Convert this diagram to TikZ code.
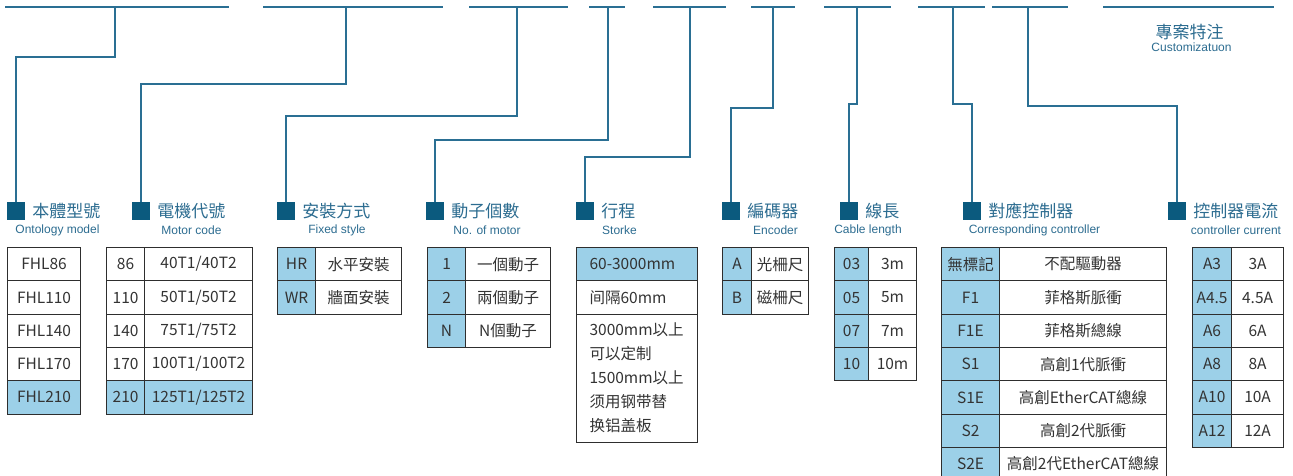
\documentclass[tikz,border=0pt]{standalone}
\usepackage{fontspec}
\setmainfont{Noto Sans CJK TC}
\newfontfamily\cjk{Noto Sans CJK TC}
\newfontfamily\engfont{Liberation Sans}
\usetikzlibrary{positioning}

\definecolor{lineblue}{HTML}{2A6F93}
\definecolor{sqblue}{HTML}{0B5A7E}
\definecolor{titleblue}{HTML}{2C6C90}
\definecolor{cellblue}{HTML}{9CD0E8}
\definecolor{cellline}{HTML}{2E2E2E}
\definecolor{textgray}{HTML}{333333}

\tikzset{
    conn/.style={lineblue, line width=1.4pt},
    sqmark/.style={fill=sqblue, minimum size=18pt, inner sep=0pt},
    headtext/.style={text=titleblue, font=\cjk\fontsize{17}{17}\selectfont, inner sep=0pt},
    subtext/.style={text=titleblue, font=\engfont\fontsize{12}{12}\selectfont, inner sep=0pt},
    cell/.style={draw=cellline, line width=1.1pt, text=textgray, font=\cjk\fontsize{15.5}{18}\selectfont,
        minimum height=33.3pt, inner sep=0pt, anchor=north west},
    bluecell/.style={cell, fill=cellblue},
    leftcell/.style={align=left, text width=95pt, inner xsep=13pt, minimum width=121pt}
}

\begin{document}
\begin{tikzpicture}[x=1pt, y=-1pt]
            \clip (0,0) rectangle (1293,475);

            % top line segments
            \foreach \a/\b in {5/229, 263/443, 469/568, 589/625, 653/726, 751/795, 824/891, 918/985, 992/1068, 1103/1274}
                \draw[conn] (\a,7) -- (\b,7);

            % markers, titles and subtitles
            \foreach \i/\x/\txt/\sx/\sub in {1/16/本體型號/57.5/Ontology model, 2/141/電機代號/191.5/Motor code,
                    3/286/安裝方式/337/Fixed style, 4/435/動子個數/487/No. of motor, 5/585/行程/619.5/Storke,
                    6/731/編碼器/775.5/Encoder, 7/849/線長/868/Cable length, 8/972/對應控制器/1034.5/Corresponding controller,
                    9/1177/控制器電流/1236/controller current} {
                \node[sqmark] (s\i) at (\x,211) {};
                \node[headtext, right=7pt of s\i] (h\i) {\txt};
                \node[subtext] (e\i) at (\sx,230) {\sub};
            }

            \node[headtext] (cust) at (1189.5,32) {專案特注};
            \node[subtext] (custe) at (1191.5,47) {Customizatuon};

            % connectors
            \foreach \i/\tx/\ty in {1/115/57, 2/346/84, 3/517/116, 4/608/140, 5/690/157,
                    6/773/108, 7/857/104, 8/953/104, 9/1028/106} {
                \coordinate (t\i) at (\tx,7);
                \draw[conn] (t\i) -- (\tx,\ty) -| (s\i.north);
            }

            % body model
            \foreach \t [count=\i from 0] in {FHL86, FHL110, FHL140, FHL170}
                \node[cell, minimum width=73pt] (m\i) at (7,{247+33.3*\i}) {\t};
            \node[bluecell, minimum width=73pt] (m4) at (7,{247+33.3*4}) {FHL210};

            % motor code
            \foreach \a/\b [count=\i from 0] in {86/{40T1/40T2}, 110/{50T1/50T2}, 140/{75T1/75T2}, 170/{100T1/100T2}} {
                \node[cell, minimum width=38pt] (c\i) at (106,{247+33.3*\i}) {\a};
                \node[cell, minimum width=108pt] (d\i) at (144,{247+33.3*\i}) {\b};
            }
            \node[bluecell, minimum width=38pt] (c4) at (106,{247+33.3*4}) {210};
            \node[bluecell, minimum width=108pt] (d4) at (144,{247+33.3*4}) {125T1/125T2};

            % fixed style
            \foreach \a/\b [count=\i from 0] in {HR/水平安裝, WR/牆面安裝} {
                \node[bluecell, minimum width=38pt] (f\i) at (277,{247+33.3*\i}) {\a};
                \node[cell, minimum width=86pt] (g\i) at (315,{247+33.3*\i}) {\b};
            }

            % motors
            \foreach \a/\b [count=\i from 0] in {1/一個動子, 2/兩個動子, N/N個動子} {
                \node[bluecell, minimum width=38pt] (n\i) at (427,{247+33.3*\i}) {\a};
                \node[cell, minimum width=85pt] (o\i) at (465,{247+33.3*\i}) {\b};
            }

            % stroke
            \node[bluecell, leftcell] (r0) at (576,247) {60-3000mm};
            \node[cell, leftcell] (r1) at (576,{247+33.3}) {间隔60mm};
            \node[cell, leftcell, minimum height=128pt, font=\cjk\fontsize{15.5}{24}\selectfont] (r2) at (576,{247+66.6})
                {3000mm以上\\可以定制\\1500mm以上\\须用钢带替\\换铝盖板};

            % encoder
            \foreach \a/\b [count=\i from 0] in {A/光柵尺, B/磁柵尺} {
                \node[bluecell, minimum width=29pt] (k\i) at (722,{247+33.3*\i}) {\a};
                \node[cell, minimum width=57pt] (l\i) at (751,{247+33.3*\i}) {\b};
            }

            % cable length
            \foreach \a/\b [count=\i from 0] in {03/3m, 05/5m, 07/7m, 10/10m} {
                \node[bluecell, minimum width=34pt] (p\i) at (834,{247+33.3*\i}) {\a};
                \node[cell, minimum width=48pt] (q\i) at (868,{247+33.3*\i}) {\b};
            }

            % controller
            \foreach \a/\b [count=\i from 0] in {無標記/不配驅動器, F1/菲格斯脈衝, F1E/菲格斯總線, S1/高創1代脈衝,
                    S1E/高創EtherCAT總線, S2/高創2代脈衝, S2E/高創2代EtherCAT總線} {
                \node[bluecell, minimum width=58pt] (u\i) at (941,{247+33.3*\i}) {\a};
                \node[cell, minimum width=167pt] (v\i) at (999,{247+33.3*\i}) {\b};
            }

            % controller current
            \foreach \a/\b [count=\i from 0] in {A3/3A, A4.5/4.5A, A6/6A, A8/8A, A10/10A, A12/12A} {
                \node[bluecell, minimum width=39pt] (w\i) at (1192,{247+33.3*\i}) {\a};
                \node[cell, minimum width=52pt] (z\i) at (1231,{247+33.3*\i}) {\b};
            }
\end{tikzpicture}
\end{document}
